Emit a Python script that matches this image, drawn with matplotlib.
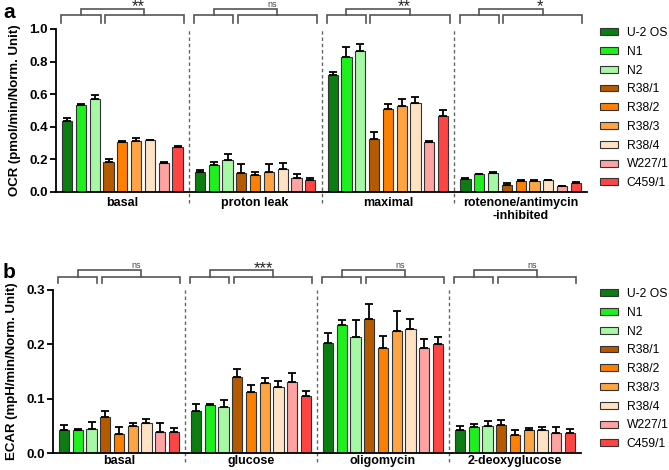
import matplotlib
matplotlib.use("Agg")
import matplotlib.pyplot as plt
import numpy as np
from matplotlib.patches import Patch

plt.rcParams['font.family'] = ['Liberation Sans', 'DejaVu Sans']

lines_ = ["U-2 OS", "N1", "N2", "R38/1", "R38/2", "R38/3", "R38/4", "W227/1", "C459/1"]
colors = ["#0b7d12", "#1ef01e", "#a6f7a6", "#b65a00", "#ff8000", "#ffa443",
          "#ffe2c4", "#ffa2a2", "#ff4444"]

ocr_cats = ["basal", "proton leak", "maximal", "rotenone/antimycin\n-inhibited"]
ocr_vals = [
    [0.436, 0.533, 0.568, 0.186, 0.309, 0.313, 0.316, 0.178, 0.279],
    [0.123, 0.168, 0.195, 0.115, 0.107, 0.123, 0.143, 0.088, 0.076],
    [0.719, 0.830, 0.865, 0.328, 0.512, 0.525, 0.547, 0.307, 0.465],
    [0.080, 0.109, 0.115, 0.045, 0.068, 0.070, 0.072, 0.035, 0.053],
]
ocr_err = [
    [0.015, 0.008, 0.026, 0.014, 0.004, 0.017, 0.006, 0.004, 0.003],
    [0.014, 0.014, 0.041, 0.055, 0.016, 0.047, 0.037, 0.025, 0.008],
    [0.015, 0.057, 0.041, 0.041, 0.025, 0.047, 0.037, 0.003, 0.039],
    [0.008, 0.004, 0.008, 0.008, 0.003, 0.003, 0.003, 0.003, 0.006],
]
ocr_sig = ["**", "ns", "**", "*"]

ecar_cats = ["basal", "glucose", "oligomycin", "2-deoxyglucose"]
ecar_vals = [
    [0.042, 0.042, 0.045, 0.066, 0.035, 0.050, 0.055, 0.039, 0.039],
    [0.078, 0.088, 0.084, 0.139, 0.112, 0.128, 0.121, 0.131, 0.104],
    [0.203, 0.235, 0.214, 0.246, 0.194, 0.224, 0.229, 0.193, 0.200],
    [0.042, 0.048, 0.050, 0.052, 0.034, 0.043, 0.043, 0.036, 0.036],
]
ecar_err = [
    [0.010, 0.003, 0.012, 0.011, 0.013, 0.006, 0.008, 0.016, 0.007],
    [0.012, 0.002, 0.014, 0.016, 0.013, 0.010, 0.011, 0.017, 0.010],
    [0.018, 0.010, 0.031, 0.028, 0.022, 0.037, 0.017, 0.017, 0.014],
    [0.007, 0.005, 0.008, 0.009, 0.009, 0.003, 0.005, 0.012, 0.008],
]
ecar_sig = ["ns", "***", "ns", "ns"]

W, H = 669, 470
fig = plt.figure(figsize=(W/100, H/100), dpi=100)
ax_a = fig.add_axes([56/W, 1-192/H, 531/W, 163/H])
ax_b = fig.add_axes([53/W, 1-453/H, 528/W, 163/H])

pitch = 0.104
bw = 0.077
offs = (np.arange(9) - 4) * pitch
bcol = "#555555"


def panel(ax, cats, vals, errs, sigs, ymax, yticks, ylabel, br, lab_y, dash_bottom):
    y_h, y_leg, y_top, y_star = br
    for g in range(4):
        xs = g + offs
        ax.bar(xs, vals[g], width=bw, color=colors, edgecolor="#333333",
               linewidth=0.8, zorder=2)
        ax.errorbar(xs, vals[g], yerr=[np.zeros(9), errs[g]], fmt="none",
                    ecolor="black", elinewidth=1.3, capsize=2.8, capthick=1.3,
                    zorder=3)
        l1, r1 = g + offs[0] - bw/2 - 0.005, g + offs[2] + bw/2 + 0.005
        l2, r2 = g + offs[3] - bw/2 + 0.01, g + offs[8] + bw/2 + 0.01
        for (l, r) in [(l1, r1), (l2, r2)]:
            ax.plot([l, l, r, r], [y_leg, y_h, y_h, y_leg], color=bcol,
                    lw=1.2, clip_on=False, solid_joinstyle='miter')
        c1, c2 = (l1 + r1) / 2, (l2 + r2) / 2
        ax.plot([c1, c1, c2, c2], [y_h, y_top, y_top, y_h], color=bcol,
                lw=1.2, clip_on=False, solid_joinstyle='miter')
        if sigs[g] == "ns":
            ax.text(c2, y_top, "ns", ha="right", va="bottom", fontsize=6.5,
                    color="#444444")
        else:
            ax.text(c2 + 0.005, y_star, sigs[g], ha="right", va="baseline",
                    fontsize=12, color="#222222")
        ax.text(g, lab_y, cats[g], ha="center", va="top", fontsize=9,
                fontweight="bold", linespacing=1.15)
    for xb in [0.5, 1.5, 2.5]:
        ax.plot([xb, xb], [dash_bottom, ymax], color="#666666", lw=1.0,
                ls=(0, (2.5, 2)), clip_on=False, zorder=1)
    ax.set_xlim(-0.5, 3.5)
    ax.set_ylim(0, ymax)
    ax.set_yticks(yticks)
    ax.set_yticklabels([f"{t:.1f}" for t in yticks], fontweight="bold", fontsize=9.5)
    ax.set_xticks([])
    for s in ["top", "right"]:
        ax.spines[s].set_visible(False)
    ax.spines["left"].set_linewidth(1.3)
    ax.spines["bottom"].set_linewidth(1.3)
    ax.tick_params(axis="y", direction="out", length=4.3, width=1.3, pad=1.5)
    ax.set_ylabel(ylabel, fontsize=9.5, fontweight="bold", labelpad=6)


panel(ax_a, ocr_cats, ocr_vals, ocr_err, ocr_sig, 1.0, np.arange(0, 1.01, 0.2),
      "OCR (pmol/min/Norm. Unit)", (1.086, 1.039, 1.123, 1.108),
      -0.03, -0.07)
panel(ax_b, ecar_cats, ecar_vals, ecar_err, ecar_sig, 0.3, np.arange(0, 0.31, 0.1),
      "ECAR (mpH/min/Norm. Unit)", (0.3245, 0.3134, 0.3368, 0.3318),
      -0.004, -0.017)

handles = [Patch(facecolor=c, edgecolor="#333333", linewidth=0.8) for c in colors]
for y0 in [1 - 27/H, 1 - 288/H]:
    fig.legend(handles, lines_, loc="upper left", bbox_to_anchor=(600/W, y0),
               frameon=False, fontsize=8.7, handlelength=1.5, handleheight=0.5,
               labelspacing=0.56, handletextpad=0.7, borderaxespad=0,
               borderpad=0)

fig.text(3/W, 1 - 3/H, "a", fontsize=15, fontweight="bold", va="top", ha="left")
fig.text(3/W, 1 - 263/H, "b", fontsize=15, fontweight="bold", va="top", ha="left")

fig.savefig("out.png", dpi=100)
